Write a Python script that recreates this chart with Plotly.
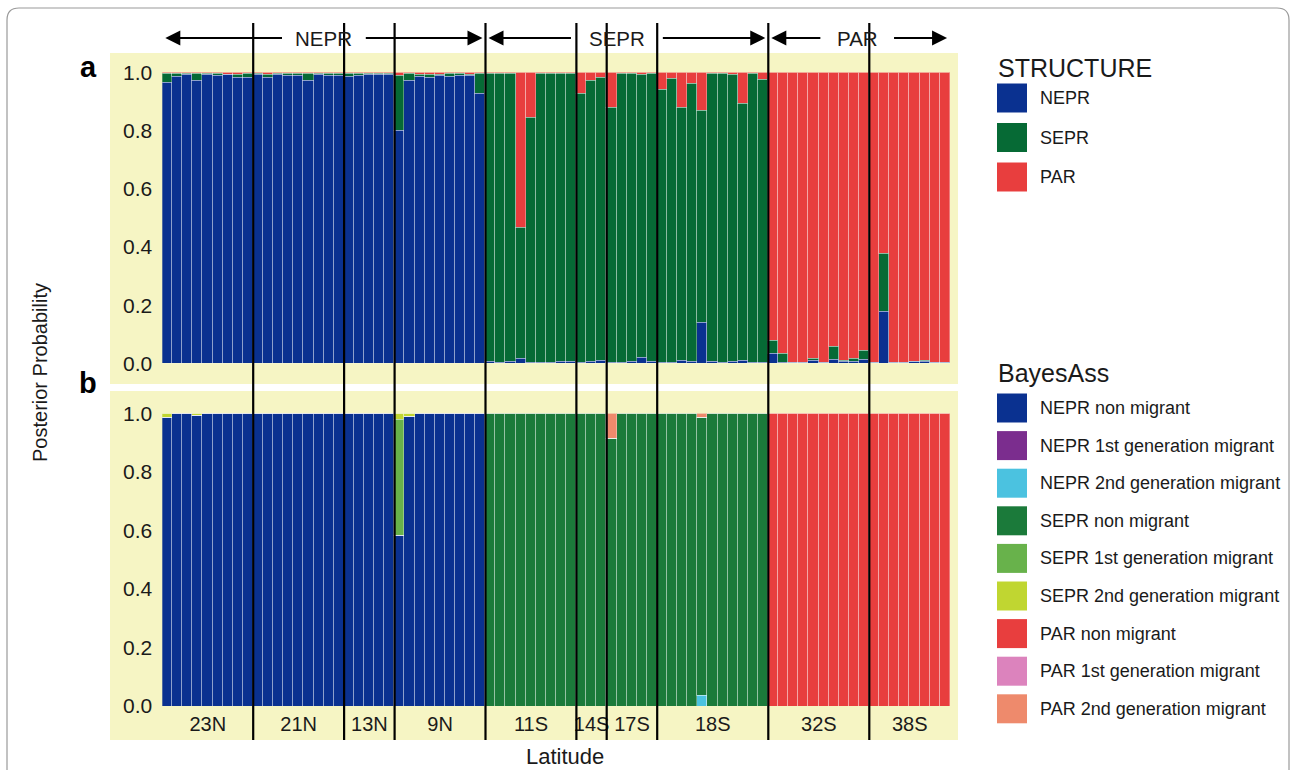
import plotly.graph_objects as go

W, H = 1292, 770

groups = ["23N", "21N", "13N", "9N", "11S", "14S", "17S", "18S", "32S", "38S"]
group_sizes = [9, 9, 5, 9, 9, 3, 5, 11, 10, 8]
regions = ["NEPR", "SEPR", "PAR"]
region_group_counts = [4, 4, 2]

y_tickvals = [0, 0.2, 0.4, 0.6, 0.8, 1.0]
y_ticktext = ["0.0", "0.2", "0.4", "0.6", "0.8", "1.0"]

# ---------- Panel a : STRUCTURE ----------
structure_names = ["NEPR", "SEPR", "PAR"]
structure_colors = ["#0a3190", "#066a35", "#e83e3e"]

a_nepr = [
    0.967, 0.985, 0.993, 0.973, 0.993, 0.988, 0.992, 0.983, 0.984,   # 23N
    0.993, 0.982, 0.993, 0.988, 0.991, 0.972, 0.993, 0.988, 0.990,   # 21N
    0.986, 0.990, 0.994, 0.994, 0.994,                               # 13N
    0.800, 0.972, 0.986, 0.984, 0.990, 0.987, 0.990, 0.990, 0.928,   # 9N
    0.006, 0.004, 0.008, 0.017, 0.004, 0.003, 0.005, 0.008, 0.008,   # 11S
    0.004, 0.008, 0.011,                                             # 14S
    0.004, 0.004, 0.006, 0.020, 0.006,                               # 17S
    0.004, 0.004, 0.011, 0.007, 0.140, 0.008, 0.004, 0.008, 0.011, 0.004, 0.004,  # 18S
    0.035, 0.005, 0.002, 0.002, 0.012, 0.002, 0.014, 0.006, 0.006, 0.015,  # 32S
    0.002, 0.180, 0.003, 0.003, 0.006, 0.008, 0.002, 0.002,          # 38S
]
a_sepr = [
    0.028, 0.010, 0.005, 0.025, 0.005, 0.008, 0.002, 0.010, 0.012,   # 23N
    0.005, 0.010, 0.005, 0.010, 0.006, 0.025, 0.005, 0.007, 0.006,   # 21N
    0.010, 0.007, 0.004, 0.004, 0.004,                               # 13N
    0.188, 0.025, 0.008, 0.010, 0.004, 0.009, 0.005, 0.004, 0.067,   # 9N
    0.991, 0.994, 0.989, 0.449, 0.841, 0.995, 0.993, 0.990, 0.990,   # 11S
    0.924, 0.963, 0.972,                                             # 14S
    0.875, 0.993, 0.992, 0.972, 0.992,                               # 17S
    0.938, 0.977, 0.869, 0.956, 0.731, 0.987, 0.994, 0.984, 0.883, 0.993, 0.973,  # 18S
    0.043, 0.030, 0.002, 0.002, 0.006, 0.002, 0.044, 0.004, 0.012, 0.031,  # 32S
    0.002, 0.197, 0.002, 0.002, 0.002, 0.002, 0.002, 0.002,          # 38S
]
a_par = [
    0.005, 0.005, 0.002, 0.002, 0.002, 0.004, 0.006, 0.007, 0.004,   # 23N
    0.002, 0.008, 0.002, 0.002, 0.003, 0.003, 0.002, 0.005, 0.004,   # 21N
    0.004, 0.003, 0.002, 0.002, 0.002,                               # 13N
    0.012, 0.003, 0.006, 0.006, 0.006, 0.004, 0.005, 0.006, 0.005,   # 9N
    0.003, 0.002, 0.003, 0.534, 0.155, 0.002, 0.002, 0.002, 0.002,   # 11S
    0.072, 0.029, 0.017,                                             # 14S
    0.121, 0.003, 0.002, 0.008, 0.002,                               # 17S
    0.058, 0.019, 0.120, 0.037, 0.129, 0.005, 0.002, 0.008, 0.106, 0.003, 0.023,  # 18S
    0.922, 0.965, 0.996, 0.996, 0.982, 0.996, 0.942, 0.990, 0.982, 0.954,  # 32S
    0.996, 0.623, 0.995, 0.995, 0.992, 0.990, 0.996, 0.996,          # 38S
]

# ---------- Panel b : BayesAss ----------
bayes_names = [
    "NEPR non migrant", "NEPR 1st generation migrant", "NEPR 2nd generation migrant",
    "SEPR non migrant", "SEPR 1st generation migrant", "SEPR 2nd generation migrant",
    "PAR non migrant", "PAR 1st generation migrant", "PAR 2nd generation migrant",
]
bayes_colors = ["#0a3190", "#7b2d8e", "#4bc2e0",
                "#1b7a3a", "#68b24b", "#c0d631",
                "#e83e3e", "#dc83bd", "#ee8a6c"]

b_nepr_non = [
    0.988, 1, 1, 0.993, 1, 1, 1, 1, 1,      # 23N
    1, 1, 1, 1, 1, 1, 1, 1, 1,              # 21N
    1, 1, 1, 1, 1,                          # 13N
    0.584, 0.990, 1, 1, 1, 1, 1, 1, 1,      # 9N
    0, 0, 0, 0, 0, 0, 0, 0, 0,              # 11S
    0, 0, 0,                                # 14S
    0, 0, 0, 0, 0,                          # 17S
    0, 0, 0, 0, 0, 0, 0, 0, 0, 0, 0,        # 18S
    0, 0, 0, 0, 0, 0, 0, 0, 0, 0,           # 32S
    0, 0, 0, 0, 0, 0, 0, 0,                 # 38S
]
b_nepr_1st = [
    0, 0, 0, 0, 0, 0, 0, 0, 0,
    0, 0, 0, 0, 0, 0, 0, 0, 0,
    0, 0, 0, 0, 0,
    0, 0, 0, 0, 0, 0, 0, 0, 0,
    0, 0, 0, 0, 0, 0, 0, 0, 0,
    0, 0, 0,
    0, 0, 0, 0, 0,
    0, 0, 0, 0, 0, 0, 0, 0, 0, 0, 0,
    0, 0, 0, 0, 0, 0, 0, 0, 0, 0,
    0, 0, 0, 0, 0, 0, 0, 0,
]
b_nepr_2nd = [
    0, 0, 0, 0, 0, 0, 0, 0, 0,
    0, 0, 0, 0, 0, 0, 0, 0, 0,
    0, 0, 0, 0, 0,
    0, 0, 0, 0, 0, 0, 0, 0, 0,
    0, 0, 0, 0, 0, 0, 0, 0, 0,
    0, 0, 0,
    0, 0, 0, 0, 0,
    0, 0, 0, 0, 0.035, 0, 0, 0, 0, 0, 0,
    0, 0, 0, 0, 0, 0, 0, 0, 0, 0,
    0, 0, 0, 0, 0, 0, 0, 0,
]
b_sepr_non = [
    0, 0, 0, 0, 0, 0, 0, 0, 0,
    0, 0, 0, 0, 0, 0, 0, 0, 0,
    0, 0, 0, 0, 0,
    0, 0, 0, 0, 0, 0, 0, 0, 0,
    1, 1, 1, 1, 1, 1, 1, 1, 1,              # 11S
    1, 1, 1,                                # 14S
    0.913, 1, 1, 1, 1,                      # 17S
    1, 1, 1, 1, 0.953, 1, 1, 1, 1, 1, 1,    # 18S
    0, 0, 0, 0, 0, 0, 0, 0, 0, 0,
    0, 0, 0, 0, 0, 0, 0, 0,
]
b_sepr_1st = [
    0, 0, 0, 0, 0, 0, 0, 0, 0,
    0, 0, 0, 0, 0, 0, 0, 0, 0,
    0, 0, 0, 0, 0,
    0.394, 0, 0, 0, 0, 0, 0, 0, 0,
    0, 0, 0, 0, 0, 0, 0, 0, 0,
    0, 0, 0,
    0, 0, 0, 0, 0,
    0, 0, 0, 0, 0, 0, 0, 0, 0, 0, 0,
    0, 0, 0, 0, 0, 0, 0, 0, 0, 0,
    0, 0, 0, 0, 0, 0, 0, 0,
]
b_sepr_2nd = [
    0.012, 0, 0, 0.007, 0, 0, 0, 0, 0,
    0, 0, 0, 0, 0, 0, 0, 0, 0,
    0, 0, 0, 0, 0,
    0.022, 0.010, 0, 0, 0, 0, 0, 0, 0,
    0, 0, 0, 0, 0, 0, 0, 0, 0,
    0, 0, 0,
    0, 0, 0, 0, 0,
    0, 0, 0, 0, 0, 0, 0, 0, 0, 0, 0,
    0, 0, 0, 0, 0, 0, 0, 0, 0, 0,
    0, 0, 0, 0, 0, 0, 0, 0,
]
b_par_non = [
    0, 0, 0, 0, 0, 0, 0, 0, 0,
    0, 0, 0, 0, 0, 0, 0, 0, 0,
    0, 0, 0, 0, 0,
    0, 0, 0, 0, 0, 0, 0, 0, 0,
    0, 0, 0, 0, 0, 0, 0, 0, 0,
    0, 0, 0,
    0, 0, 0, 0, 0,
    0, 0, 0, 0, 0, 0, 0, 0, 0, 0, 0,
    1, 1, 1, 1, 1, 1, 1, 1, 1, 1,           # 32S
    1, 1, 1, 1, 1, 1, 1, 1,                 # 38S
]
b_par_1st = [
    0, 0, 0, 0, 0, 0, 0, 0, 0,
    0, 0, 0, 0, 0, 0, 0, 0, 0,
    0, 0, 0, 0, 0,
    0, 0, 0, 0, 0, 0, 0, 0, 0,
    0, 0, 0, 0, 0, 0, 0, 0, 0,
    0, 0, 0,
    0, 0, 0, 0, 0,
    0, 0, 0, 0, 0, 0, 0, 0, 0, 0, 0,
    0, 0, 0, 0, 0, 0, 0, 0, 0, 0,
    0, 0, 0, 0, 0, 0, 0, 0,
]
b_par_2nd = [
    0, 0, 0, 0, 0, 0, 0, 0, 0,
    0, 0, 0, 0, 0, 0, 0, 0, 0,
    0, 0, 0, 0, 0,
    0, 0, 0, 0, 0, 0, 0, 0, 0,
    0, 0, 0, 0, 0, 0, 0, 0, 0,
    0, 0, 0,
    0.087, 0, 0, 0, 0,
    0, 0, 0, 0, 0.012, 0, 0, 0, 0, 0, 0,
    0, 0, 0, 0, 0, 0, 0, 0, 0, 0,
    0, 0, 0, 0, 0, 0, 0, 0,
]

structure_values = [a_nepr, a_sepr, a_par]
bayes_values = [b_nepr_non, b_nepr_1st, b_nepr_2nd,
                b_sepr_non, b_sepr_1st, b_sepr_2nd,
                b_par_non, b_par_1st, b_par_2nd]

# ---------- layout helpers ----------
FONT = "Liberation Sans, Arial, Helvetica, sans-serif"
YELLOW = "#f6f5c4"
TXT = "#1a1a1a"
n_ind = sum(group_sizes)
xs = list(range(n_ind))


def px(xp):
    return xp / W


def py(yp):
    return 1 - yp / H


x_domain = [px(162.3), px(950.1)]
ya_domain = [py(363.5), py(72.5)]
yb_domain = [py(706.0), py(413.5)]

fig = go.Figure()
bar_line = dict(color="rgba(255,255,255,0.32)", width=1)

for name, col, vals in zip(structure_names, structure_colors, structure_values):
    fig.add_trace(go.Bar(x=xs, y=vals, name=name, marker=dict(color=col, line=bar_line),
                         width=1, xaxis="x", yaxis="y", showlegend=False))
for name, col, vals in zip(bayes_names, bayes_colors, bayes_values):
    fig.add_trace(go.Bar(x=xs, y=vals, name=name, marker=dict(color=col, line=bar_line),
                         width=1, xaxis="x2", yaxis="y2", showlegend=False))

# group boundaries and centers
bounds = []
acc = 0
centers = []
for s in group_sizes:
    centers.append(acc + (s - 1) / 2)
    acc += s
    bounds.append(acc - 0.5)
inner_bounds = bounds[:-1]

axis_common = dict(showgrid=False, zeroline=False, showline=False, ticks="", automargin=False)
fig.update_layout(
    width=W, height=H,
    autosize=False,
    margin=dict(l=0, r=0, t=0, b=0, pad=0, autoexpand=False),
    paper_bgcolor="white", plot_bgcolor="rgba(0,0,0,0)",
    barmode="stack", bargap=0, showlegend=False,
    font=dict(family=FONT, color=TXT),
    xaxis=dict(domain=x_domain, range=[-0.5, n_ind - 0.5], anchor="y",
               showticklabels=False, **axis_common),
    xaxis2=dict(domain=x_domain, range=[-0.5, n_ind - 0.5], anchor="y2",
                tickvals=centers, ticktext=groups, tickfont=dict(size=20, color=TXT),
                ticklabelstandoff=4, **axis_common),
    yaxis=dict(domain=ya_domain, range=[0, 1], anchor="x", tickvals=y_tickvals,
               ticktext=y_ticktext, tickfont=dict(size=21, color=TXT),
               ticklabelstandoff=9, **axis_common),
    yaxis2=dict(domain=yb_domain, range=[0, 1], anchor="x2", tickvals=y_tickvals,
                ticktext=y_ticktext, tickfont=dict(size=21, color=TXT),
                ticklabelstandoff=9, **axis_common),
)

shapes = []
# outer card border
r = 12
x0c, x1c, y0c = 7, 1289, 8
path = (f"M {px(x0c)},{py(H + 5)} L {px(x0c)},{py(y0c + r)} "
        f"Q {px(x0c)},{py(y0c)} {px(x0c + r)},{py(y0c)} "
        f"L {px(x1c - r)},{py(y0c)} Q {px(x1c)},{py(y0c)} {px(x1c)},{py(y0c + r)} "
        f"L {px(x1c)},{py(H + 5)}")
shapes.append(dict(type="path", path=path, xref="paper", yref="paper",
                   line=dict(color="#9a9a9a", width=1.2), layer="below"))
# panel backgrounds
shapes.append(dict(type="rect", xref="paper", yref="paper", x0=px(110), x1=px(958),
                   y0=py(384), y1=py(53), fillcolor=YELLOW, line=dict(width=0), layer="below"))
shapes.append(dict(type="rect", xref="paper", yref="paper", x0=px(110), x1=px(958),
                   y0=py(740), y1=py(391), fillcolor=YELLOW, line=dict(width=0), layer="below"))
# group boundary lines
for b in inner_bounds:
    shapes.append(dict(type="line", xref="x", yref="paper", x0=b, x1=b,
                       y0=py(740), y1=py(23), line=dict(color="black", width=2.2)))

annotations = []


def label(text, xp, yp, size, color=TXT, angle=0, xanchor="center"):
    annotations.append(dict(text=text, x=px(xp), y=py(yp), xref="paper", yref="paper",
                            xanchor=xanchor, yanchor="middle", showarrow=False,
                            textangle=angle, font=dict(size=size, color=color)))


# region arrows + labels
arrow_y = py(38)
g0 = 0
text_shift = {"NEPR": 0, "SEPR": -10, "PAR": -2}
half_gap = {"NEPR": 4.0, "SEPR": 4.4, "PAR": 3.5}
for reg, cnt in zip(regions, region_group_counts):
    start = -0.5 if g0 == 0 else bounds[g0 - 1]
    end = bounds[g0 + cnt - 1]
    mid = (start + end) / 2 + text_shift[reg] / 10.1
    annotations.append(dict(text=reg, x=mid, y=arrow_y, xref="x", yref="paper",
                            showarrow=False, font=dict(size=20.5, color=TXT),
                            xanchor="center", yanchor="middle"))
    for tip, tail in ((start + 0.3, mid - half_gap[reg]), (end - 0.3, mid + half_gap[reg])):
        annotations.append(dict(text="", x=tip, y=arrow_y, xref="x", yref="paper",
                                ax=tail, axref="x", ay=0, ayref="pixel",
                                showarrow=True, arrowhead=2, arrowsize=1.5, arrowwidth=2,
                                arrowcolor="black"))
    g0 += cnt

# panel letters
label("<b>a</b>", 88, 67, 29, color="black")
label("<b>b</b>", 88, 383, 29, color="black")
# axis titles
label("Posterior Probability", 40, 373, 20, angle=-90)
label("Latitude", 565, 756, 22)


# custom legends
def add_legend(title, title_y, names, colors, first_y, step):
    label(title, 996, title_y, 25, xanchor="left")
    for i, (nm, col) in enumerate(zip(names, colors)):
        cy = first_y + i * step
        shapes.append(dict(type="rect", xref="paper", yref="paper",
                           x0=px(997), x1=px(1027), y0=py(cy + 14.5), y1=py(cy - 14.5),
                           fillcolor=col, line=dict(width=0)))
        label(nm, 1038, cy, 18, xanchor="left")


add_legend("STRUCTURE", 68, structure_names, structure_colors, 98, 39.5)
add_legend("BayesAss", 373, bayes_names, bayes_colors, 408, 37.6)

fig.update_layout(shapes=shapes, annotations=annotations)
fig.write_html("out.html", config={"displayModeBar": False},
               post_script="document.body.style.margin='0';"
                           "document.documentElement.style.overflow='hidden';")
